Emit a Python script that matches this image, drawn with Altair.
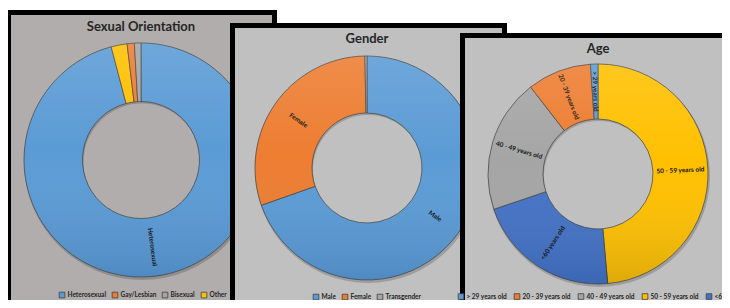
import math
import altair as alt
import pandas as pd

# ---------------- data ----------------
so_cats = ["Heterosexual", "Other", "Gay/Lesbian", "Bisexual"]          # clockwise from 12 o'clock
so_vals = [95.9, 2.2, 1.0, 0.9]
so_labels = ["Heterosexual", "", "", ""]
so_legend = ["Heterosexual", "Gay/Lesbian", "Bisexual", "Other"]
so_colors = ["#5b9bd5", "#ed7d31", "#a5a5a5", "#ffc000"]

g_cats = ["Male", "Female", "Transgender"]
g_vals = [69.6, 30.1, 0.3]
g_labels = ["Male", "Female", ""]
g_legend = ["Male", "Female", "Transgender"]
g_colors = ["#5b9bd5", "#ed7d31", "#a5a5a5"]

a_cats = ["50 - 59 years old", "<60 years old", "40 - 49 years old", "20 - 39 years old", "> 29 years old"]
a_vals = [48.6, 21.2, 19.7, 9.4, 1.1]
a_labels = ["50 - 59 years old", "<60 years old", "40 - 49 years old", "20 - 39 years old", "> 29 years old"]
a_legend = ["> 29 years old", "20 - 39 years old", "40 - 49 years old", "50 - 59 years old", "<60 years old"]
a_colors = ["#5b9bd5", "#ed7d31", "#a5a5a5", "#ffc000", "#4472c4"]

titles = ["Sexual Orientation", "Gender", "Age"]

W, H = 714, 292
FONT = "Lato"
one = pd.DataFrame({"k": [0]})


def label_angles(vals):
    tot = float(sum(vals))
    cum = 0.0
    out = []
    for v in vals:
        mid = (cum + v / 2.0) / tot * 360.0
        a = mid - 90.0
        if a > 90.0:
            a -= 180.0
        out.append(a % 360.0)
        cum += v
    return out


def rect(x, x2, y, y2, color):
    return alt.Chart(one).mark_rect(color=color, strokeWidth=0).encode(
        x=alt.value(x), x2=alt.value(x2), y=alt.value(y), y2=alt.value(y2)
    )


def panel(x, x2, y, y2, bg, b=5):
    return [rect(x, x2, y, y2, "#000000"), rect(x + b, x2 - b, y + b, y2 - b, bg)]


grad = alt.Gradient(
    gradient="linear",
    stops=[
        alt.GradientStop(color="rgba(255,255,255,0.12)", offset=0),
        alt.GradientStop(color="rgba(255,255,255,0.0)", offset=0.45),
        alt.GradientStop(color="rgba(0,20,60,0.13)", offset=1),
    ],
    x1=0, x2=0, y1=0, y2=1,
)


def donut(cats, vals, labels, legend_order, colors, cx, cy, ro, ri, lx, ly, title, ty, colpad=4):
    df = pd.DataFrame({
        "cat": cats,
        "val": vals,
        "label": labels,
        "ord": list(range(len(cats))),
        "ang": label_angles(vals),
    })
    shadow = alt.Chart(one).mark_arc(
        theta=0, theta2=6.2832, innerRadius=ri, outerRadius=ro + 1,
        fill="#000000", opacity=0.18, strokeWidth=0,
    ).encode(x=alt.value(cx + 1), y=alt.value(cy + 2))
    base = alt.Chart(df).encode(
        theta=alt.Theta("val:Q", stack=True),
        order=alt.Order("ord:Q"),
    )
    arcs = base.mark_arc(
        innerRadius=ri, outerRadius=ro, stroke="#3f3f3f", strokeWidth=0.7
    ).encode(
        x=alt.value(cx), y=alt.value(cy),
        color=alt.Color(
            "cat:N",
            scale=alt.Scale(domain=legend_order, range=colors),
            legend=alt.Legend(
                orient="none", legendX=lx, legendY=ly, direction="horizontal",
                title=None, symbolType="square", symbolSize=32,
                symbolStrokeColor="#404040", symbolStrokeWidth=0.8,
                labelFont=FONT, labelFontWeight="bold", labelFontSize=6.5,
                labelColor="#262626", labelOffset=2, columnPadding=colpad, padding=0,
                labelLimit=200,
            ),
        ),
    )
    texts = base.mark_text(
        radius=(ro + ri) / 2.0, font=FONT, fontWeight="bold", fontSize=6.5,
        color="#111111", align="center", baseline="middle",
    ).encode(
        x=alt.value(cx), y=alt.value(cy),
        text="label:N",
        angle=alt.Angle("ang:Q", scale=None),
    )
    sheen = alt.Chart(one).mark_arc(
        theta=0, theta2=6.2832, innerRadius=ri, outerRadius=ro,
        fill=grad, strokeWidth=0,
    ).encode(x=alt.value(cx), y=alt.value(cy))
    ttl = alt.Chart(pd.DataFrame({"t": [title]})).mark_text(
        font=FONT, fontWeight="bold", fontSize=13, color="#262626",
        align="center", baseline="middle",
    ).encode(x=alt.value(cx), y=alt.value(ty), text="t:N")
    return [shadow, alt.layer(arcs, texts), sheen, ttl]


layers = []
layers += panel(-2, 269, 2, 300, "#b1adac")
layers += donut(so_cats, so_vals, so_labels, so_legend, so_colors,
                133, 152, 117, 58.5, 50.5, 283.5, titles[0], 19)
layers += panel(222, 499, 15, 302, "#c0c0c0")
layers += donut(g_cats, g_vals, g_labels, g_legend, g_colors,
                359, 160, 112, 55, 304.5, 285.5, titles[1], 31)
layers += panel(452, 740, 25, 320, "#c0c0c0")
layers += donut(a_cats, a_vals, a_labels, a_legend, a_colors,
                590, 166, 110, 55, 449.5, 285, titles[2], 41, colpad=5)

chart = alt.layer(*layers).resolve_scale(
    theta="independent", color="independent"
).properties(
    width=W, height=H, padding=0,
    autosize=alt.AutoSizeParams(type="none"),
    background="white",
).configure_view(strokeWidth=0)

chart.save("out.html", embed_options={"renderer": "svg", "actions": False})
